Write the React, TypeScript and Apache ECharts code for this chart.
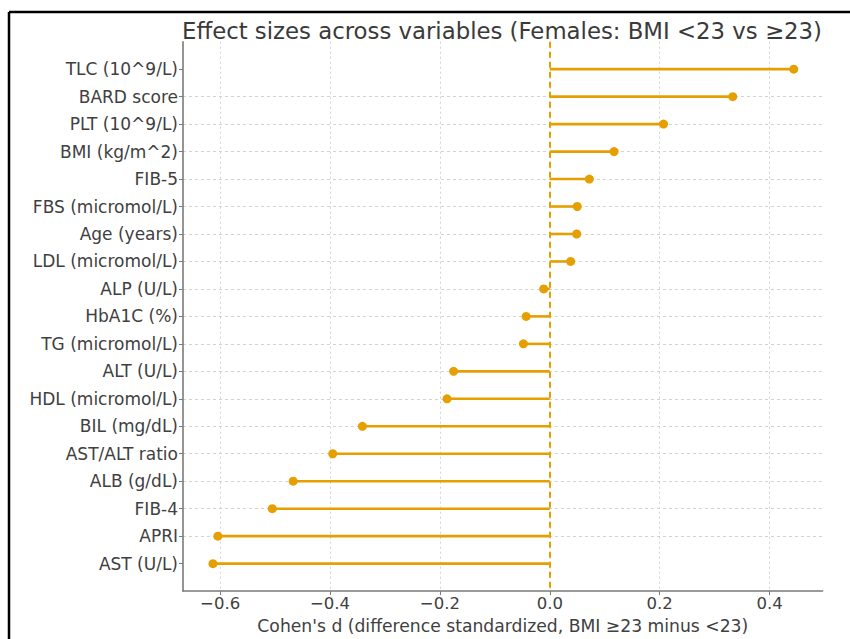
import React, { useEffect, useRef } from 'react';
import * as echarts from 'echarts';

const categories: string[] = [
  'TLC (10^9/L)',
  'BARD score',
  'PLT (10^9/L)',
  'BMI (kg/m^2)',
  'FIB-5',
  'FBS (micromol/L)',
  'Age (years)',
  'LDL (micromol/L)',
  'ALP (U/L)',
  'HbA1C (%)',
  'TG (micromol/L)',
  'ALT (U/L)',
  'HDL (micromol/L)',
  'BIL (mg/dL)',
  'AST/ALT ratio',
  'ALB (g/dL)',
  'FIB-4',
  'APRI',
  'AST (U/L)',
];

const effectSizes: number[] = [
  0.444, 0.333, 0.207, 0.117, 0.072, 0.050, 0.049, 0.038, -0.011, -0.043,
  -0.048, -0.175, -0.187, -0.341, -0.395, -0.467, -0.505, -0.604, -0.613,
];

const xTickValues: number[] = [-0.6, -0.4, -0.2, 0.0, 0.2, 0.4];
const xMin = -0.6675;
const xMax = 0.4965;

const TITLE = 'Effect sizes across variables (Females: BMI <23 vs ≥23)';
const X_NAME = "Cohen's d (difference standardized, BMI ≥23 minus <23)";

const ORANGE = '#E69F00';
const AXIS = '#7a7a7a';
const TEXT = '#404040';
const GRID = '#d2d2d2';
const FONT = '"DejaVu Sans", sans-serif';

export default function App() {
  const ref = useRef<HTMLDivElement>(null);

  useEffect(() => {
    if (!ref.current) return;
    const chart = echarts.init(ref.current, null, { renderer: 'svg' });
    const points = effectSizes.map((v, i) => [v, i]);
    const yIdx = categories.map((_, i) => i);

    chart.setOption({
      animation: false,
      backgroundColor: '#ffffff',
      textStyle: { fontFamily: FONT },
      title: {
        text: TITLE,
        left: 497,
        top: 14,
        textAlign: 'center',
        textStyle: { fontFamily: FONT, fontSize: 22.8, fontWeight: 'normal', color: '#3a3a3a' },
      },
      grid: { left: 183, right: 27.4, top: 41.7, bottom: 45.7, containLabel: false },
      xAxis: {
        type: 'value',
        min: xMin,
        max: xMax,
        name: X_NAME,
        nameLocation: 'middle',
        nameGap: 20,
        nameTextStyle: { fontFamily: FONT, fontSize: 17.2, color: TEXT },
        axisLine: { show: true, onZero: false, lineStyle: { color: AXIS, width: 1.6 } },
        axisTick: { show: true, length: 4, customValues: xTickValues, lineStyle: { color: AXIS, width: 1 } },
        axisLabel: {
          customValues: xTickValues,
          margin: 4,
          fontFamily: FONT,
          fontSize: 16.5,
          color: TEXT,
          formatter: (v: number) => (v < -1e-9 ? '−' : '') + Math.abs(v).toFixed(1),
        },
        splitLine: { show: true, lineStyle: { color: GRID, type: [2, 3], width: 1 } },
      },
      yAxis: {
        type: 'value',
        inverse: true,
        min: -1,
        max: 19,
        interval: 1,
        axisLine: { show: true, onZero: false, lineStyle: { color: AXIS, width: 1.6 } },
        axisTick: { show: true, length: 4, customValues: yIdx, lineStyle: { color: AXIS, width: 1 } },
        axisLabel: {
          customValues: yIdx,
          margin: 5,
          fontFamily: FONT,
          fontSize: 17,
          color: TEXT,
          formatter: (v: number) => {
            const k = Math.round(v);
            return Math.abs(v - k) < 1e-6 && k >= 0 && k < categories.length ? categories[k] : '';
          },
        },
        splitLine: {
          show: true,
          showMinLine: false,
          showMaxLine: false,
          lineStyle: { color: GRID, type: [3, 3], width: 1 },
        },
      },
      series: [
        {
          type: 'custom',
          data: points,
          encode: { x: 0, y: 1 },
          z: 2,
          renderItem: (_params: any, api: any) => {
            const v = api.value(0);
            const i = api.value(1);
            const p0 = api.coord([0, i]);
            const p1 = api.coord([v, i]);
            return {
              type: 'line',
              shape: { x1: p0[0], y1: p0[1], x2: p1[0], y2: p1[1] },
              style: { stroke: ORANGE, lineWidth: 2.6 },
            };
          },
        },
        {
          type: 'scatter',
          data: points,
          symbol: 'circle',
          symbolSize: 9,
          z: 3,
          itemStyle: { color: ORANGE, opacity: 1 },
          markLine: {
            silent: true,
            symbol: ['none', 'none'],
            label: { show: false },
            lineStyle: { color: ORANGE, type: [6, 4], width: 2, opacity: 1 },
            data: [{ xAxis: 0 }],
          },
        },
      ],
      graphic: [
        { type: 'line', shape: { x1: 9, y1: 12, x2: 850, y2: 12 }, style: { stroke: '#000', lineWidth: 2.5 } },
        { type: 'line', shape: { x1: 9, y1: 12, x2: 9, y2: 639 }, style: { stroke: '#000', lineWidth: 2.5 } },
      ],
    });

    return () => chart.dispose();
  }, []);

  return <div ref={ref} style={{ position: 'fixed', left: 0, top: 0, width: 850, height: 639 }} />;
}
